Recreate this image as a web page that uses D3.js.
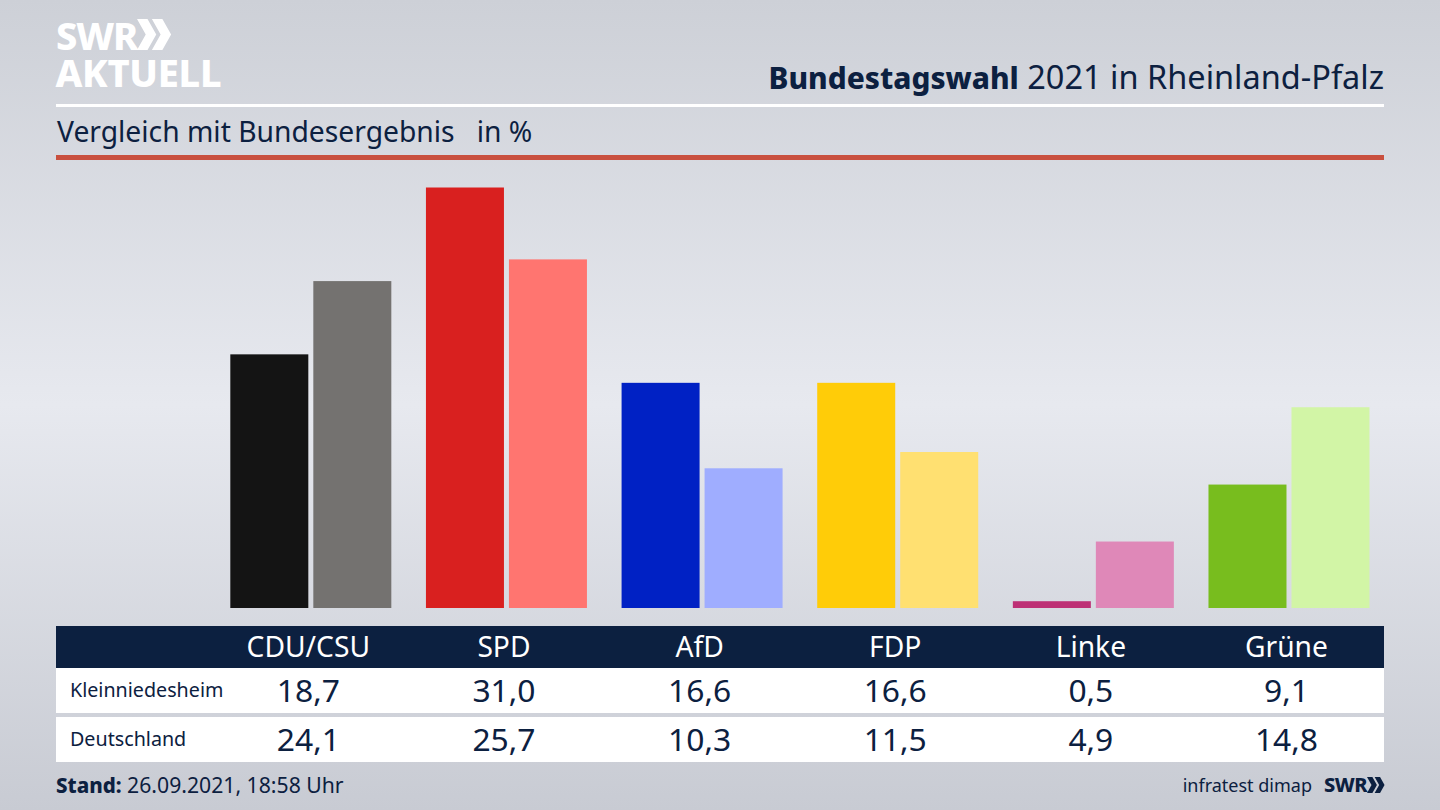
<!DOCTYPE html>
<html>
<head>
<meta charset="utf-8">
<script src="https://cdn.jsdelivr.net/npm/d3@7"></script>
<style>
    html, body { margin: 0; padding: 0; overflow: hidden; }
    svg { display: block; font-family: "Noto Sans", sans-serif; }
</style>
</head>
<body>
<div id="chart"></div>
<script>
const parties = ["CDU/CSU", "SPD", "AfD", "FDP", "Linke", "Grüne"];
const kleinniedesheim = [18.7, 31.0, 16.6, 16.6, 0.5, 9.1];
const deutschland = [24.1, 25.7, 10.3, 11.5, 4.9, 14.8];
const darkColors = ["#141414", "#d9201f", "#0021c4", "#ffcc08", "#bd3075", "#78bd1e"];
const lightColors = ["#747270", "#ff7570", "#9fadff", "#ffe071", "#df88b8", "#d2f5a6"];
const rowNames = ["Kleinniedesheim", "Deutschland"];

const width = 1440,
    height = 810;
const navy = "#0c2040";

const svg = d3.select("#chart")
    .append("svg")
    .attr("width", width)
    .attr("height", height);

const defs = svg.append("defs");

const bgGradient = defs.append("linearGradient")
    .attr("id", "bg-gradient")
    .attr("x1", 0).attr("x2", 0).attr("y1", 0).attr("y2", 1);
bgGradient.append("stop").attr("offset", "0%").attr("stop-color", "#cdd0d7");
bgGradient.append("stop").attr("offset", "50%").attr("stop-color", "#e7e9ef");
bgGradient.append("stop").attr("offset", "100%").attr("stop-color", "#c8cbd3");

svg.append("rect")
    .attr("width", width)
    .attr("height", height)
    .style("fill", "url(#bg-gradient)");

// logo
const logo = svg.append("g").attr("fill", "white");
const logoText = logo.append("text")
    .style("font-size", "38px")
    .style("font-weight", 800);
logoText.append("tspan")
    .attr("x", 56).attr("y", 50)
    .style("letter-spacing", "-1.2px")
    .text("SWR");
logoText.append("tspan")
    .attr("x", 55.5).attr("y", 87)
    .style("letter-spacing", "-0.3px")
    .text("AKTUELL");

function chevrons(g, x, y, h, w, fill) {
    [0, w * 0.85].forEach(dx => {
        g.append("path")
            .attr("d", `M${x + dx},${y} l${w * 0.6},0 l${w * 0.5},${h / 2} l${-w * 0.5},${h / 2} l${-w * 0.6},0 l${w * 0.5},${-h / 2} z`)
            .attr("fill", fill);
    });
}
chevrons(logo, 137, 19, 31, 17.5, "white");

// header
const title = svg.append("text")
    .attr("x", 1384).attr("y", 89)
    .attr("text-anchor", "end")
    .attr("fill", navy)
    .style("font-size", "32.5px");
title.append("tspan").style("font-weight", 800).style("font-size", "29.8px").text("Bundestagswahl");
title.append("tspan").text(" 2021 in Rheinland-Pfalz");

svg.append("rect").attr("x", 56).attr("y", 104).attr("width", 1328).attr("height", 3).attr("fill", "white");

svg.append("text")
    .attr("x", 57).attr("y", 142)
    .attr("fill", navy)
    .style("font-size", "28.25px")
    .style("white-space", "pre")
    .text("Vergleich mit Bundesergebnis   in %");

svg.append("rect").attr("x", 56).attr("y", 155).attr("width", 1328).attr("height", 5).attr("fill", "#c9503f");

// bars
const x = d3.scaleBand()
    .domain(parties)
    .range([210.5, 1384.3]);

const y = d3.scaleLinear()
    .domain([0, 31])
    .range([608, 187.5]);

const barWidth = 78,
    barGap = 5;

svg.append("g").selectAll("rect")
    .data(parties)
    .enter()
    .append("rect")
    .attr("x", d => x(d) + x.bandwidth() / 2 - barWidth)
    .attr("y", (d, i) => y(kleinniedesheim[i]))
    .attr("width", barWidth)
    .attr("height", (d, i) => y(0) - y(kleinniedesheim[i]))
    .attr("fill", (d, i) => darkColors[i]);

svg.append("g").selectAll("rect")
    .data(parties)
    .enter()
    .append("rect")
    .attr("x", d => x(d) + x.bandwidth() / 2 + barGap)
    .attr("y", (d, i) => y(deutschland[i]))
    .attr("width", barWidth)
    .attr("height", (d, i) => y(0) - y(deutschland[i]))
    .attr("fill", (d, i) => lightColors[i]);

// table
svg.append("rect").attr("x", 56).attr("y", 626).attr("width", 1328).attr("height", 42).attr("fill", navy);

svg.append("g").selectAll("text")
    .data(parties)
    .enter()
    .append("text")
    .attr("x", d => x(d) + x.bandwidth() / 2)
    .attr("y", 657)
    .attr("text-anchor", "middle")
    .attr("fill", "white")
    .style("font-size", "28.2px")
    .text(d => d);

const rowY = d3.scaleBand()
    .domain(rowNames)
    .range([668, 762]);

const fmt = v => v.toFixed(1).replace(".", ",");

[kleinniedesheim, deutschland].forEach((values, r) => {
    const name = rowNames[r];
    const top = rowY(name) + (r === 0 ? 0 : 2);
    svg.append("rect")
        .attr("x", 56).attr("y", top)
        .attr("width", 1328).attr("height", 45)
        .attr("fill", "white");
    svg.append("text")
        .attr("x", 70).attr("y", top + 29)
        .attr("fill", navy)
        .style("font-size", "19.7px")
        .text(name);
    svg.append("g").selectAll("text")
        .data(values)
        .enter()
        .append("text")
        .attr("x", (d, i) => x(parties[i]) + x.bandwidth() / 2)
        .attr("y", top + 34)
        .attr("text-anchor", "middle")
        .attr("fill", navy)
        .style("font-size", "31.8px")
        .text(d => fmt(d));
});

// footer
const stand = svg.append("text")
    .attr("x", 56).attr("y", 793)
    .attr("fill", navy)
    .style("font-size", "21.2px");
stand.append("tspan").style("font-weight", 800).style("font-size", "20.5px").text("Stand:");
stand.append("tspan").text(" 26.09.2021, 18:58 Uhr");

svg.append("text")
    .attr("x", 1312).attr("y", 792)
    .attr("text-anchor", "end")
    .attr("fill", navy)
    .style("font-size", "18px")
    .text("infratest dimap");

svg.append("text")
    .attr("x", 1324).attr("y", 792)
    .attr("fill", navy)
    .style("font-size", "20px")
    .style("font-weight", 800)
    .style("letter-spacing", "-0.5px")
    .text("SWR");

const swrSmall = svg.append("g");
chevrons(swrSmall, 1367, 777, 16, 9, navy);
</script>
</body>
</html>
